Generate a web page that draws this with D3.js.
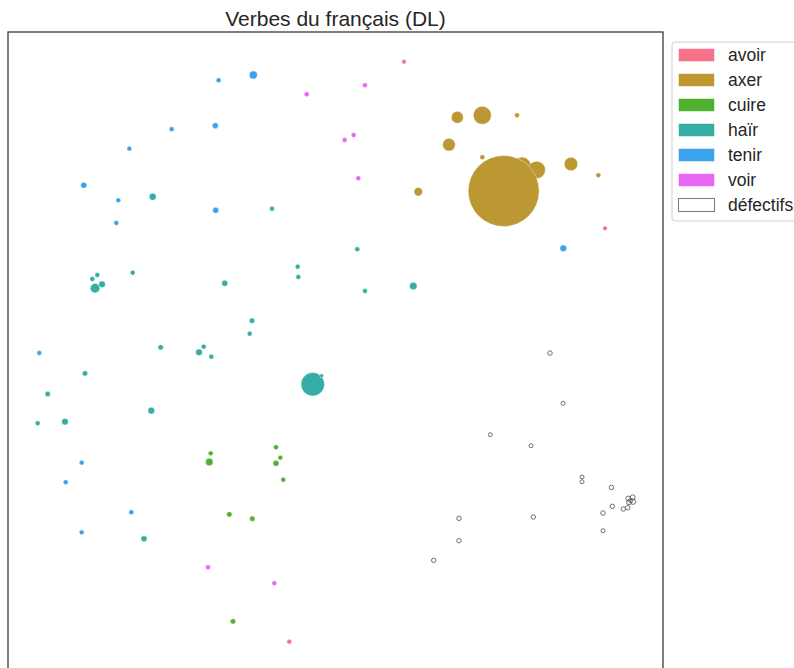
<!DOCTYPE html>
<html>
<head>
<meta charset="utf-8">
<script src="https://cdn.jsdelivr.net/npm/d3@7"></script>
<style>
  html, body { margin: 0; padding: 0; background: #fff; }
  svg { display: block; font-family: "Liberation Sans", Arial, sans-serif; }
</style>
</head>
<body>
<svg id="chart" width="794" height="668"></svg>
<script>
// Verb groups, their colours and the "défectifs" class drawn as hollow markers
const groups = ["avoir", "axer", "cuire", "haïr", "tenir", "voir", "défectifs"];
const groupColors = ["#f77189", "#bb9832", "#50b131", "#36ada4", "#3ba3ec", "#e866f4", "none"];

// Embedding coordinates [x, y, weight] per group
const avoir = [[8.37, 36.37, 5], [32.92, 16.02, 5], [-5.64, -34.47, 6]];
const axer = [
  [14.88, 29.58, 36], [17.93, 29.83, 81], [22.17, 29.83, 6], [13.86, 26.24, 40],
  [17.93, 24.70, 6], [22.78, 23.63, 81], [24.57, 23.15, 76], [20.54, 20.58, 1260],
  [28.76, 23.88, 45], [32.10, 22.50, 6], [10.11, 20.49, 18]
];
const cuire = [
  [-15.24, -11.46, 6], [-15.41, -12.52, 14], [-7.27, -10.72, 6], [-6.74, -11.99, 6],
  [-7.27, -12.68, 9], [-6.38, -14.68, 6], [-12.97, -18.91, 7], [-10.16, -19.44, 7],
  [-12.52, -31.98, 7]
];
const hair = [
  [-22.33, 19.88, 12], [-7.76, 18.42, 6], [2.66, 13.46, 6], [-4.62, 11.33, 6],
  [-4.54, 10.08, 6], [3.60, 8.37, 6], [-24.77, 10.60, 6], [-29.70, 9.83, 6],
  [-29.09, 10.32, 6], [-28.52, 9.18, 11], [-29.37, 8.70, 22], [-13.53, 9.31, 9],
  [-10.20, 4.74, 7], [-10.48, 3.15, 6], [-21.35, 1.49, 7], [-16.10, 1.56, 6],
  [-16.67, 0.88, 11], [-15.17, 0.34, 6], [-30.60, -1.69, 7], [-35.15, -4.21, 7],
  [-36.37, -7.79, 6], [-33.04, -7.60, 11], [-22.50, -6.25, 11], [-2.78, -3.03, 137],
  [-1.69, -1.98, 4], [9.50, 8.98, 14], [-23.39, -21.89, 9]
];
const tenir = [
  [-14.27, 34.10, 6], [-10.04, 34.75, 16], [-20.01, 28.12, 6], [-14.68, 28.56, 9],
  [-25.18, 25.75, 6], [-30.75, 21.28, 9], [-26.53, 19.44, 6], [-26.77, 16.67, 6],
  [-14.63, 18.22, 9], [27.82, 13.58, 11], [-36.18, 0.79, 6], [-31.00, -12.60, 6],
  [-32.95, -15.00, 6], [-24.94, -18.66, 6], [-31.00, -21.11, 6]
];
const voir = [
  [-3.52, 32.39, 6], [3.60, 33.49, 6], [1.12, 26.81, 6], [2.22, 27.42, 6],
  [2.78, 22.13, 6], [-15.57, -25.38, 6], [-7.47, -27.33, 6]
];
const defectifs = [
  [26.20, 0.79, 5], [27.79, -5.35, 4], [18.91, -9.18, 4], [23.88, -10.53, 4],
  [30.11, -14.35, 4], [30.11, -14.93, 4], [33.71, -15.63, 5], [33.81, -17.93, 5],
  [32.67, -18.75, 5], [32.67, -20.91, 4], [35.15, -18.26, 5], [35.69, -18.10, 5],
  [35.76, -16.98, 6], [36.30, -16.83, 6], [35.85, -17.44, 6], [36.34, -17.37, 7],
  [36.05, -17.22, 5], [15.08, -19.40, 5], [24.16, -19.24, 5], [15.08, -22.13, 5],
  [11.99, -24.53, 5]
];
const seriesByGroup = [avoir, axer, cuire, hair, tenir, voir, defectifs];

const svg = d3.select("#chart");
const frame = { left: 8, top: 32, size: 655 };

const x = d3.scaleLinear().domain([-40, 40]).range([frame.left, frame.left + frame.size]);
const y = d3.scaleLinear().domain([-40, 40]).range([frame.top + frame.size, frame.top]);
const r = d3.scaleSqrt().domain([0, 1260]).range([0, 35.5]);
const color = d3.scaleOrdinal().domain(groups).range(groupColors);

// Points
const plot = svg.append("g");
groups.forEach((g, i) => {
  const hollow = g === "défectifs";
  plot.append("g")
    .selectAll("circle")
    .data(seriesByGroup[i])
    .join("circle")
    .attr("cx", d => x(d[0]))
    .attr("cy", d => y(d[1]))
    .attr("r", d => r(d[2]))
    .attr("fill", hollow ? "none" : color(g))
    .attr("stroke", hollow ? "#6e6e6e" : "#ffffff")
    .attr("stroke-width", hollow ? 1 : 0.4);
});

// Axes frame (no ticks)
svg.append("rect")
  .attr("x", frame.left).attr("y", frame.top)
  .attr("width", frame.size).attr("height", frame.size)
  .attr("fill", "none").attr("stroke", "#3a3a3a").attr("stroke-width", 1.3);

// Title
svg.append("text")
  .attr("x", frame.left + frame.size / 2).attr("y", 26)
  .attr("text-anchor", "middle")
  .attr("font-size", 21).attr("fill", "#262626")
  .text("Verbes du français (DL)");

// Legend
const legend = svg.append("g").attr("transform", "translate(672,42)");
legend.append("rect")
  .attr("x", 0).attr("y", 0).attr("width", 140).attr("height", 179)
  .attr("rx", 3).attr("fill", "#fff").attr("stroke", "#d0d0d0").attr("stroke-width", 1);
const rows = legend.selectAll("g.item").data(groups).join("g")
  .attr("class", "item")
  .attr("transform", (d, i) => `translate(0, ${13 + i * 25})`);
rows.append("rect")
  .attr("x", 6.5).attr("y", -6.5).attr("width", 36).attr("height", 13)
  .attr("fill", d => d === "défectifs" ? "#fff" : color(d))
  .attr("stroke", d => d === "défectifs" ? "#7a7a7a" : "#ffffff")
  .attr("stroke-opacity", d => d === "défectifs" ? 1 : 0.5)
  .attr("stroke-width", 1);
rows.append("text")
  .attr("x", 56).attr("y", 6)
  .attr("font-size", 17.5).attr("fill", "#262626")
  .text(d => d);
</script>
</body>
</html>
